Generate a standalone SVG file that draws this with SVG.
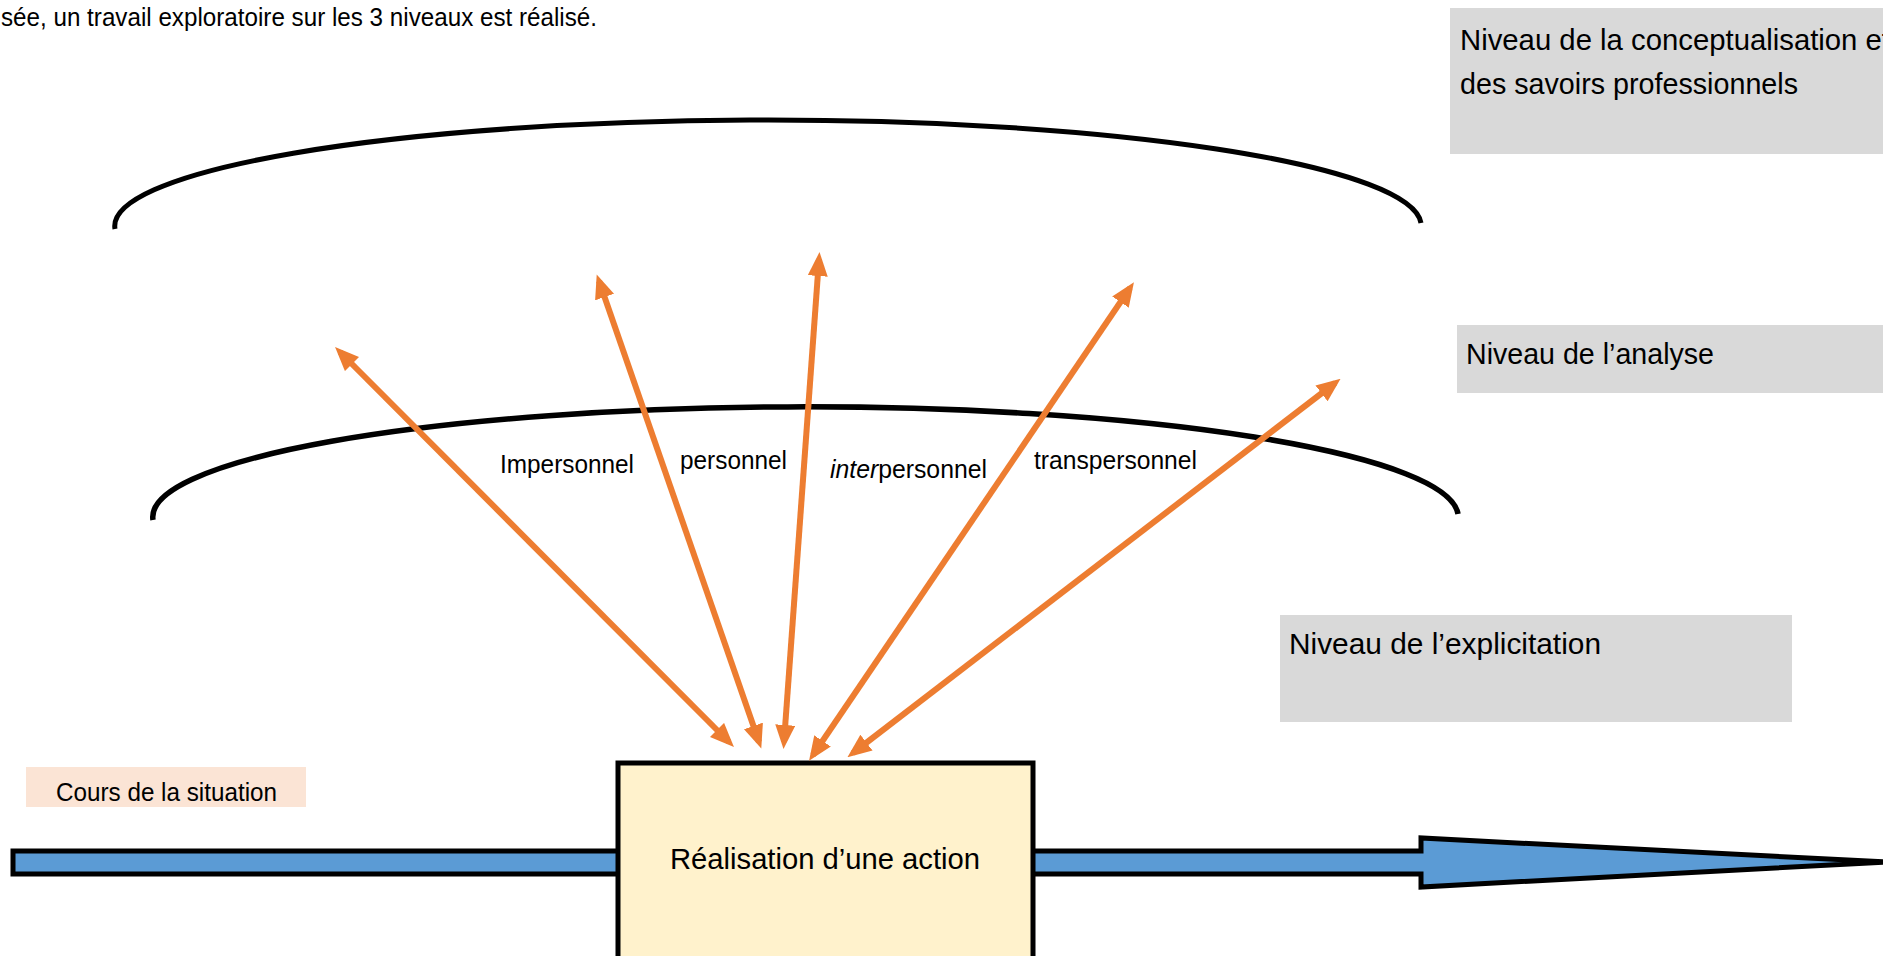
<svg xmlns="http://www.w3.org/2000/svg" width="1883" height="956" viewBox="0 0 1883 956">
<style>
.t{font-family:"Liberation Sans",Arial,sans-serif;fill:#000}
.big{font-size:30px}
.mid{font-size:25px}
.lvl{fill:#D9D9D9}
.arc{fill:none;stroke:#000;stroke-width:5}
.arr{stroke:#ED7D31;stroke-width:6;fill:none;marker-start:url(#ah);marker-end:url(#ah)}
</style>
<defs>
<marker id="ah" markerUnits="userSpaceOnUse" markerWidth="24" markerHeight="20" refX="17" refY="10" orient="auto-start-reverse" viewBox="0 0 24 20">
<path d="M0,0 L24,10 L0,20 Z" fill="#ED7D31"/>
</marker>
</defs>
<rect width="1883" height="956" fill="#fff"/>
<text class="t mid" x="1" y="26" textLength="596" lengthAdjust="spacingAndGlyphs">sée, un travail exploratoire sur les 3 niveaux est réalisé.</text>

<g id="arcs">
<path class="arc" d="M115,229 A653,106 0 0 1 1421,223"/>
<path class="arc" style="stroke-width:5.5" d="M153,520 A652,110 0 0 1 1458,514"/>
</g>

<g id="level-conceptualisation">
<rect class="lvl" x="1450" y="8" width="433" height="146"/>
<text class="t big" x="1460" y="50" textLength="430" lengthAdjust="spacingAndGlyphs">Niveau de la conceptualisation et</text>
<text class="t big" x="1460" y="94" textLength="338" lengthAdjust="spacingAndGlyphs">des savoirs professionnels</text>
</g>
<g id="level-analyse">
<rect class="lvl" x="1457" y="325" width="426" height="68"/>
<text class="t big" x="1466" y="364" textLength="248" lengthAdjust="spacingAndGlyphs">Niveau de l’analyse</text>
</g>
<g id="level-explicitation">
<rect class="lvl" x="1280" y="615" width="512" height="107"/>
<text class="t big" x="1289" y="654" textLength="312" lengthAdjust="spacingAndGlyphs">Niveau de l’explicitation</text>
</g>
<g id="cours">
<rect x="26" y="767" width="280" height="40" fill="#FBE4D5"/>
<text class="t mid" x="56" y="801" textLength="221" lengthAdjust="spacingAndGlyphs">Cours de la situation</text>
</g>

<g id="timeline">
<path d="M13,851 L1421,851 L1421,838 L1886,862 L1421,887 L1421,874 L13,874 Z" fill="#5B9BD5" stroke="#000" stroke-width="5"/>
</g>

<g id="action">
<rect x="618" y="763" width="415" height="200" fill="#FFF2CC" stroke="#000" stroke-width="5"/>
<text class="t big" x="670" y="869" textLength="310" lengthAdjust="spacingAndGlyphs">Réalisation d’une action</text>
</g>

<g id="connectors">
<line class="arr" x1="729" y1="742" x2="340" y2="352"/>
<line class="arr" x1="759" y1="742" x2="599" y2="281"/>
<line class="arr" x1="784" y1="742" x2="819" y2="259"/>
<line class="arr" x1="813" y1="755" x2="1130" y2="288"/>
<line class="arr" x1="853" y1="753" x2="1335" y2="383"/>
</g>

<g id="labels">
<text class="t mid" x="500" y="473" textLength="134" lengthAdjust="spacingAndGlyphs">Impersonnel</text>
<text class="t mid" x="680" y="469" textLength="107" lengthAdjust="spacingAndGlyphs">personnel</text>
<text class="t mid" x="830" y="478" textLength="157" lengthAdjust="spacingAndGlyphs"><tspan font-style="italic">inter</tspan>personnel</text>
<text class="t mid" x="1034" y="469" textLength="163" lengthAdjust="spacingAndGlyphs">transpersonnel</text>
</g>
</svg>
